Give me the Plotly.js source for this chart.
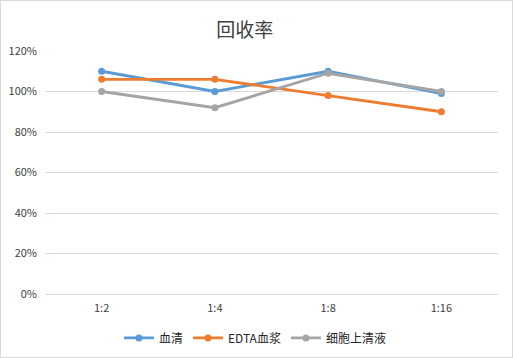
<!DOCTYPE html>
<html><head><meta charset="utf-8">
<script src="https://cdn.plot.ly/plotly-3.0.1.min.js"></script>
<style>
html,body{margin:0;padding:0;background:#fff;}
#wrap{position:absolute;left:0;top:0;width:513px;height:358px;box-sizing:border-box;border:1px solid #d9d9d9;}
#chart{position:absolute;left:0;top:0;width:513px;height:358px;}
</style></head>
<body>
<div id="chart"></div>
<div id="wrap"></div>
<script>
const categories = ["1:2", "1:4", "1:8", "1:16"];
const seriesNames = ["血清", "EDTA血浆", "细胞上清液"];
const serum = [1.10, 1.00, 1.10, 0.99];
const edtaPlasma = [1.06, 1.06, 0.98, 0.90];
const cellSupernatant = [1.00, 0.92, 1.09, 1.00];
const colors = ["#5B9BD5", "#ED7D31", "#A5A5A5"];
const yTicks = [0, 0.2, 0.4, 0.6, 0.8, 1.0, 1.2];

const allSeries = [serum, edtaPlasma, cellSupernatant];
const traces = allSeries.map((vals, i) => ({
  x: categories, y: vals, name: seriesNames[i], type: 'scatter', mode: 'lines+markers',
  line: {color: colors[i], width: 2.8},
  marker: {color: colors[i], size: 7}
}));

const font = {family: '"Noto Sans CJK SC", "Liberation Sans", sans-serif', size: 11, color: '#404040'};
const layout = {
  width: 513, height: 358,
  margin: {l: 45, r: 15, t: 51, b: 64},
  paper_bgcolor: '#fff', plot_bgcolor: '#fff',
  font: font,
  title: {text: '回收率', x: 0.477, xanchor: 'center', y: 0.915, yanchor: 'middle',
          font: {family: '"Noto Sans CJK SC", sans-serif', size: 19, color: '#404040'}},
  xaxis: {type: 'category', range: [-0.5, 3.5], showgrid: false, zeroline: false,
          showline: false, ticks: '', tickfont: {size: 11, color: '#404040'}, ticklabelstandoff: 6},
  yaxis: {range: [0, 1.2], tickvals: yTicks, tickformat: '.0%', showgrid: true, gridcolor: '#d9d9d9',
          gridwidth: 1, zeroline: true, zerolinecolor: '#d9d9d9', showline: false, ticks: '',
          tickfont: {size: 11, color: '#404040'}, ticklabelstandoff: 7},
  showlegend: true,
  legend: {orientation: 'h', x: 0.497, xref: 'container', xanchor: 'center',
           y: 0.056, yref: 'container', yanchor: 'middle',
           font: {size: 12, color: '#262626'}, itemwidth: 30, tracegroupgap: 0}
};
Plotly.newPlot('chart', traces, layout, {displayModeBar: false, staticPlot: true});
</script>
</body></html>
